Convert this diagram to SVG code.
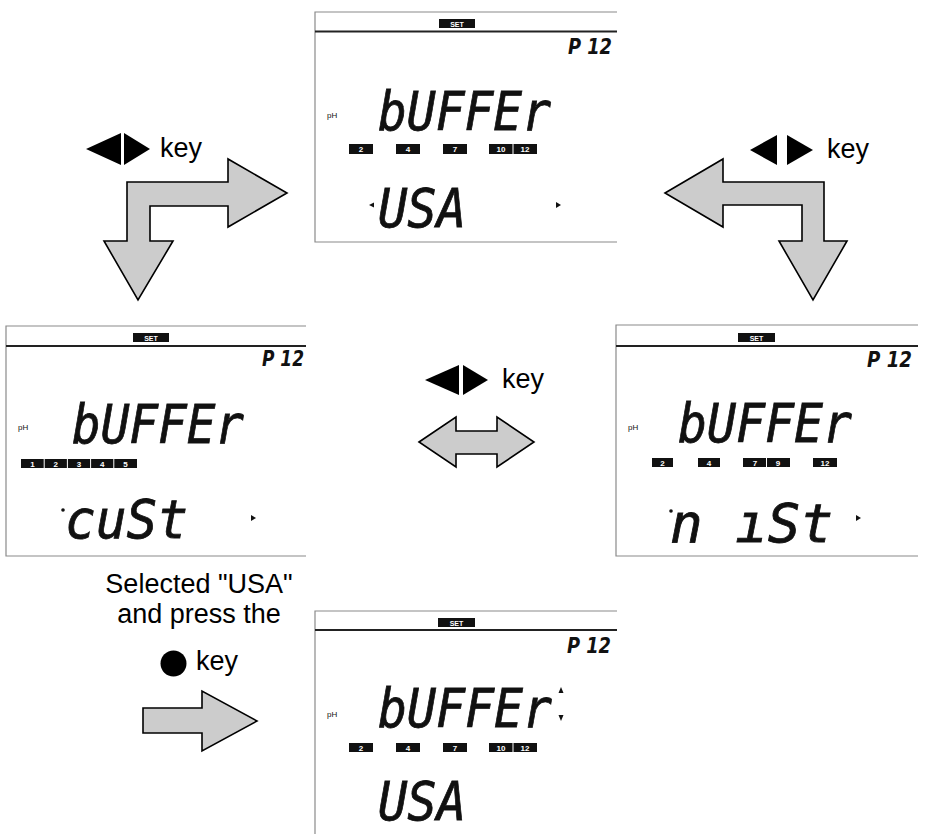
<svg xmlns="http://www.w3.org/2000/svg" width="932" height="834" viewBox="0 0 932 834">
<style>
.frame{stroke:#8a8a8a;stroke-width:1.2;fill:none}
.bar{stroke:#222;stroke-width:2.2}
.set{fill:#111}
.settx{fill:#fff;font-family:"Liberation Sans",Arial,sans-serif;font-size:7px;font-weight:bold;text-anchor:middle}
.pnum{font-family:"DejaVu Sans",sans-serif;font-size:21px;font-weight:bold;font-style:italic;fill:#111}
.ph{font-family:"Liberation Sans",Arial,sans-serif;font-size:8px;fill:#111}
.seg{font-family:"DejaVu Sans Mono",monospace;font-size:54px;font-weight:normal;font-style:italic;fill:#111;stroke:#111;stroke-width:0.8}
.box{fill:#111}
.boxtx{fill:#fff;font-family:"Liberation Sans",Arial,sans-serif;font-size:8px;font-weight:bold;text-anchor:middle}
.div{stroke:#fff;stroke-width:1}
.mk{fill:#111}
.arr{fill:#cccccc;stroke:#000;stroke-width:1.6;stroke-linejoin:miter}
.tri{fill:#000}
.lbl{font-family:"Liberation Sans",Arial,sans-serif;font-size:27px;fill:#000}
</style>

<g id="lcd-usa" transform="translate(315,12)">
  <path class="frame" d="M302,0 H0 V230 H302"/>
  <line class="bar" x1="0" y1="19.5" x2="302" y2="19.5"/>
  <rect class="set" x="124" y="7" width="36" height="9"/>
  <text class="settx" x="142" y="14.5">SET</text>
  <text class="pnum" x="253" y="42" textLength="44" lengthAdjust="spacingAndGlyphs">P 12</text>
  <text class="ph" x="12" y="106">pH</text>
  <text class="seg" x="63" y="118" textLength="173" lengthAdjust="spacingAndGlyphs">bUFFEr</text>
  <rect class="box" x="34" y="132" width="24" height="10"/><text class="boxtx" x="46" y="140">2</text>
  <rect class="box" x="81" y="132" width="24" height="10"/><text class="boxtx" x="93" y="140">4</text>
  <rect class="box" x="128" y="132" width="24" height="10"/><text class="boxtx" x="140" y="140">7</text>
  <rect class="box" x="174" y="132" width="48" height="10"/><line class="div" x1="198" y1="132" x2="198" y2="142"/>
  <text class="boxtx" x="186" y="140">10</text><text class="boxtx" x="210" y="140">12</text>
  <text class="seg" x="63" y="215" textLength="88" lengthAdjust="spacingAndGlyphs">USA</text>
  <polygon class="mk" points="54,193 59,190.5 59,195.5"/>
  <polygon class="mk" points="241,190 241,196 246,193"/>
</g>

<g id="lcd-cust" transform="translate(6,326)">
  <path class="frame" d="M300,0 H0 V230 H300"/>
  <line class="bar" x1="0" y1="20" x2="300" y2="20"/>
  <rect class="set" x="127" y="7" width="36" height="9"/>
  <text class="settx" x="145" y="14.5">SET</text>
  <text class="pnum" x="256" y="40" textLength="42" lengthAdjust="spacingAndGlyphs">P 12</text>
  <text class="ph" x="12" y="104">pH</text>
  <text class="seg" x="66" y="117" textLength="172" lengthAdjust="spacingAndGlyphs">bUFFEr</text>
  <rect class="box" x="15" y="133" width="116" height="9"/>
  <line class="div" x1="38.2" y1="133" x2="38.2" y2="142"/><line class="div" x1="61.4" y1="133" x2="61.4" y2="142"/>
  <line class="div" x1="84.6" y1="133" x2="84.6" y2="142"/><line class="div" x1="107.8" y1="133" x2="107.8" y2="142"/>
  <text class="boxtx" x="26.6" y="140.5">1</text><text class="boxtx" x="49.8" y="140.5">2</text>
  <text class="boxtx" x="73" y="140.5">3</text><text class="boxtx" x="96.2" y="140.5">4</text>
  <text class="boxtx" x="119.4" y="140.5">5</text>
  <text class="seg" x="59" y="212" textLength="123" lengthAdjust="spacingAndGlyphs">cuSt</text>
  <circle class="mk" cx="57" cy="184" r="1.8"/>
  <polygon class="mk" points="245,189 245,195 250,192"/>
</g>

<g id="lcd-nist" transform="translate(616,325)">
  <path class="frame" d="M302,0 H0 V231 H302"/>
  <line class="bar" x1="0" y1="21" x2="302" y2="21"/>
  <rect class="set" x="122" y="8" width="37" height="9"/>
  <text class="settx" x="140.5" y="15.5">SET</text>
  <text class="pnum" x="251" y="42" textLength="45" lengthAdjust="spacingAndGlyphs">P 12</text>
  <text class="ph" x="12" y="105">pH</text>
  <text class="seg" x="62" y="117" textLength="174" lengthAdjust="spacingAndGlyphs">bUFFEr</text>
  <rect class="box" x="36" y="133" width="21" height="9"/><text class="boxtx" x="46.5" y="140.5">2</text>
  <rect class="box" x="82" y="133" width="22" height="9"/><text class="boxtx" x="93" y="140.5">4</text>
  <rect class="box" x="127" y="133" width="47" height="9"/><line class="div" x1="150.5" y1="133" x2="150.5" y2="142"/>
  <text class="boxtx" x="139" y="140.5">7</text><text class="boxtx" x="162" y="140.5">9</text>
  <rect class="box" x="197" y="133" width="24" height="9"/><text class="boxtx" x="209" y="140.5">12</text>
  <text class="seg" x="54" y="217" textLength="163" lengthAdjust="spacingAndGlyphs">n ıSt</text>
  <circle class="mk" cx="55" cy="186" r="1.8"/>
  <polygon class="mk" points="240,190 240,196 245,193"/>
</g>

<g id="lcd-confirm" transform="translate(315,611)">
  <path class="frame" d="M302,0 H0 V223"/>
  <line class="bar" x1="0" y1="19" x2="302" y2="19"/>
  <rect class="set" x="123" y="7" width="37" height="9"/>
  <text class="settx" x="141.5" y="14.5">SET</text>
  <text class="pnum" x="252" y="42" textLength="44" lengthAdjust="spacingAndGlyphs">P 12</text>
  <text class="ph" x="12" y="106">pH</text>
  <text class="seg" x="63" y="116" textLength="174" lengthAdjust="spacingAndGlyphs">bUFFEr</text>
  <polygon class="mk" points="243.5,82 248.5,82 246,76"/>
  <polygon class="mk" points="243.5,104 248.5,104 246,110"/>
  <rect class="box" x="34" y="132" width="24" height="9"/><text class="boxtx" x="46" y="139.5">2</text>
  <rect class="box" x="81" y="132" width="24" height="9"/><text class="boxtx" x="93" y="139.5">4</text>
  <rect class="box" x="128" y="132" width="24" height="9"/><text class="boxtx" x="140" y="139.5">7</text>
  <rect class="box" x="174" y="132" width="48" height="9"/><line class="div" x1="198" y1="132" x2="198" y2="141"/>
  <text class="boxtx" x="186" y="139.5">10</text><text class="boxtx" x="210" y="139.5">12</text>
  <text class="seg" x="63" y="209" font-size="52" textLength="88" lengthAdjust="spacingAndGlyphs">USA</text>
</g>

<g id="connectors">
  <polygon class="arr" points="127,182 228,182 228,159 287,193 228,227 228,206 150,206 150,241 173,241 138,300 104,241 127,241"/>
  <polygon class="arr" points="665,193 723,159 723,182 824,182 824,241 847,241 813,300 779,241 802,241 802,205 723,205 723,227"/>
  <polygon class="arr" points="419,442 456,417 456,431 497,431 497,417 534,442 497,467 497,454 456,454 456,467"/>
  <polygon class="arr" points="143,708 202,708 202,691 257,721 202,751 202,733 143,733"/>
</g>

<g id="label-left">
  <polygon class="tri" points="86,149 121,133 121,165"/>
  <polygon class="tri" points="124,133 124,165 150,149"/>
  <text class="lbl" x="160" y="157">key</text>
</g>
<g id="label-right">
  <polygon class="tri" points="750,150 777,135 777,165"/>
  <polygon class="tri" points="787,135 787,165 813,150"/>
  <text class="lbl" x="827" y="158">key</text>
</g>
<g id="label-center">
  <polygon class="tri" points="425,380 459,365 459,395"/>
  <polygon class="tri" points="463,365 463,395 488,380"/>
  <text class="lbl" x="502" y="388">key</text>
</g>
<g id="label-enter">
  <text class="lbl" x="199" y="593" text-anchor="middle">Selected "USA"</text>
  <text class="lbl" x="199" y="623" text-anchor="middle">and press the</text>
  <circle cx="173.5" cy="663.5" r="13" fill="#000"/>
  <text class="lbl" x="196" y="670">key</text>
</g>
</svg>
